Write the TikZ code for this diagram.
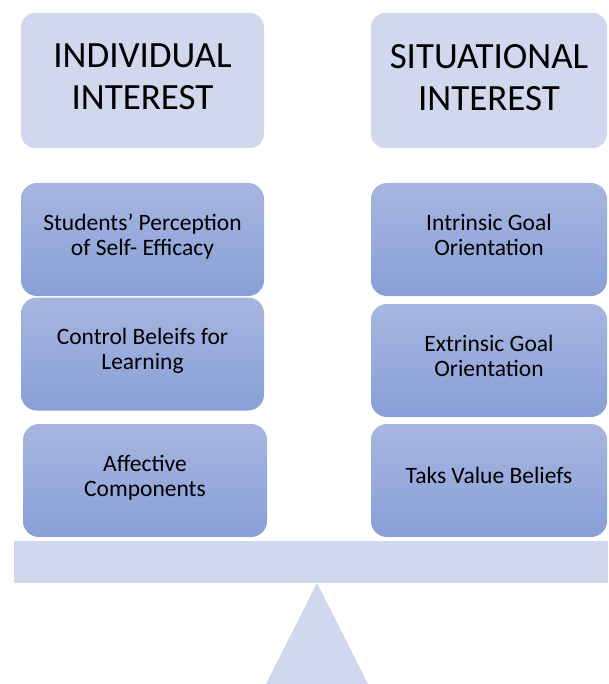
\documentclass[tikz,border=0pt]{standalone}
\usepackage{fontspec}
\setmainfont{Carlito}
\usetikzlibrary{positioning}

\definecolor{headfill}{HTML}{D1D7EC}
\definecolor{boxtop}{HTML}{A7B6E0}
\definecolor{boxbottom}{HTML}{889FD7}

\begin{document}
\begin{tikzpicture}
    [
        x=1pt, y=1pt, on grid,
        head_node/.style={rectangle, rounded corners=14pt, fill=headfill, inner sep=0pt, minimum height=135pt, text depth=7pt, align=center, font=\fontsize{37}{42}\selectfont},
        item_node/.style={rectangle, rounded corners=16pt, top color=boxtop, bottom color=boxbottom, inner sep=0pt, minimum width=243pt, minimum height=113pt, text depth=10pt, align=center, font=\fontsize{23.5}{25}\selectfont},
    ]
        \useasboundingbox (0,0) rectangle (608,-684);
        % the two columns
        \node[head_node, minimum width=243pt] (indiv) at (142.5,-80.5) {INDIVIDUAL\\INTEREST} ;
        \node[head_node, minimum width=236pt] (situ) at (489,-80.5) {SITUATIONAL\\INTEREST} ;
        \node[item_node] (l1) [below = 159pt of indiv] {Students’ Perception\\of Self- Efficacy} ;
        \node[item_node] (l2) [below = 114.5pt of l1] {Control Beleifs for\\Learning} ;
        \node[item_node, minimum width=244pt] (l3) [below right = 126.5pt and 2.5pt of l2] {Affective\\Components} ;
        \node[item_node, minimum width=236pt] (r1) [below = 159pt of situ] {Intrinsic Goal\\Orientation} ;
        \node[item_node, minimum width=236pt] (r2) [below = 121pt of r1] {Extrinsic Goal\\Orientation} ;
        \node[item_node, minimum width=236pt] (r3) [below = 120pt of r2] {Taks Value Beliefs} ;
        % the balance
        \fill[headfill] (14,-541) rectangle (608,-583) ;
        \fill[headfill] (317,-583) -- (266,-684) -- (368,-684) -- cycle ;
    \end{tikzpicture}
\end{document}
